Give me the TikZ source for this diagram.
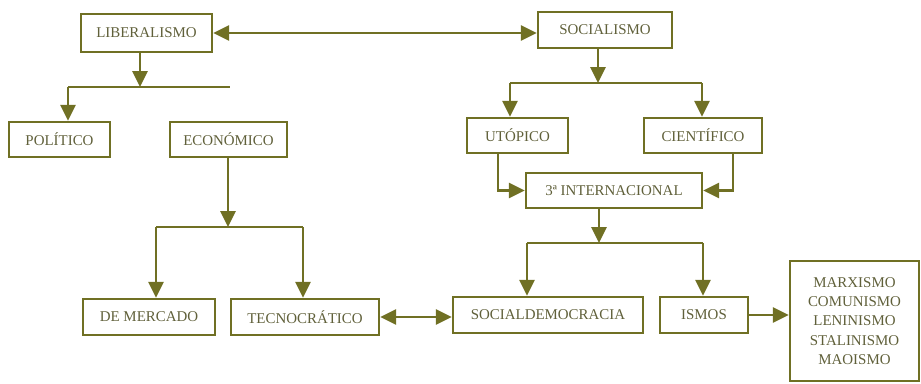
\documentclass[tikz,border=0pt]{standalone}
\usepackage{fontspec}
\setmainfont{Liberation Serif}
\usepackage{xcolor}
\usetikzlibrary{arrows.meta}

\definecolor{olivedraw}{RGB}{112,112,36}
\definecolor{olivetext}{RGB}{96,96,58}

\begin{document}
\begin{tikzpicture}[x=0.02cm, y=-0.02cm]

\tikzstyle{box} = [rectangle, draw=olivedraw, line width=1.4pt, inner sep=0pt, text centered, text=olivetext, font=\fontsize{8.5}{11}\selectfont]
\tikzstyle{arrow} = [draw=olivedraw, line width=1.4pt, -{Triangle[length=9pt,width=8.5pt]}]
\tikzstyle{biarrow} = [draw=olivedraw, line width=1.4pt, {Triangle[length=9pt,width=8.5pt]}-{Triangle[length=9pt,width=8.5pt]}]
\tikzstyle{line} = [draw=olivedraw, line width=1.4pt]

\useasboundingbox (0,0) rectangle (921,383);

% Nodes
\node (lib) [box, minimum width=2.62cm, minimum height=0.76cm] at (146.5,33) {LIBERALISMO};
\node (soc) [box, minimum width=2.68cm, minimum height=0.72cm] at (605,30) {SOCIALISMO};
\node (pol) [box, minimum width=2.02cm, minimum height=0.70cm] at (59.5,139.5) {POLÍTICO};
\node (eco) [box, minimum width=2.34cm, minimum height=0.70cm] at (228.5,139.5) {ECONÓMICO};
\node (uto) [box, minimum width=2.02cm, minimum height=0.70cm] at (517.5,135.5) {UTÓPICO};
\node (cie) [box, minimum width=2.36cm, minimum height=0.70cm] at (703,135.5) {CIENTÍFICO};
\node (inter) [box, minimum width=3.52cm, minimum height=0.70cm] at (614,190.5) {3ª INTERNACIONAL};
\node (mer) [box, minimum width=2.64cm, minimum height=0.72cm] at (149,317) {DE MERCADO};
\node (tec) [box, minimum width=2.96cm, minimum height=0.72cm] at (305,317) {TECNOCRÁTICO};
\node (sdem) [box, minimum width=3.80cm, minimum height=0.72cm] at (548,315) {SOCIALDEMOCRACIA};
\node (ismos) [box, minimum width=1.76cm, minimum height=0.72cm] at (704,315) {ISMOS};
\node (lista) [box, minimum width=2.58cm, minimum height=2.40cm, align=center] at (854.5,321) {MARXISMO\\COMUNISMO\\LENINISMO\\STALINISMO\\MAOISMO};

% Branch points
\coordinate (libjoin) at (140,87);
\coordinate (libL) at (68,87);
\coordinate (libR) at (230,87);
\coordinate (ecojoin) at (228,227);
\coordinate (ecoL) at (156,227);
\coordinate (ecoR) at (303,227);
\coordinate (socjoin) at (598,83);
\coordinate (socL) at (510,83);
\coordinate (socR) at (702,83);
\coordinate (interjoin) at (599,243);
\coordinate (interL) at (527,243);
\coordinate (interR) at (703,243);

% Arrows
\draw [biarrow] (lib.east) -- (lib.east -| soc.west);
\draw [arrow] (lib.south -| libjoin) -- (libjoin);
\draw [line] (libL) -- (libR);
\draw [arrow] (libL) -- (pol.north -| libL);

\draw [arrow] (eco.south -| ecojoin) -- (ecojoin);
\draw [line] (ecoL) -- (ecoR);
\draw [arrow] (ecoL) -- (mer.north -| ecoL);
\draw [arrow] (ecoR) -- (tec.north -| ecoR);
\draw [biarrow] (tec.east) -- (tec.east -| sdem.west);

\draw [arrow] (soc.south -| socjoin) -- (socjoin);
\draw [line] (socL) -- (socR);
\draw [arrow] (socL) -- (uto.north -| socL);
\draw [arrow] (socR) -- (cie.north -| socR);
\draw [arrow] ([xshift=-0.39cm]uto.south) |- (inter.west);
\draw [arrow] ([xshift=0.6cm]cie.south) |- (inter.east);

\draw [arrow] (inter.south -| interjoin) -- (interjoin);
\draw [line] (interL) -- (interR);
\draw [arrow] (interL) -- (sdem.north -| interL);
\draw [arrow] (interR) -- (ismos.north -| interR);
\draw [arrow] (ismos.east) -- (ismos.east -| lista.west);

\end{tikzpicture}
\end{document}
